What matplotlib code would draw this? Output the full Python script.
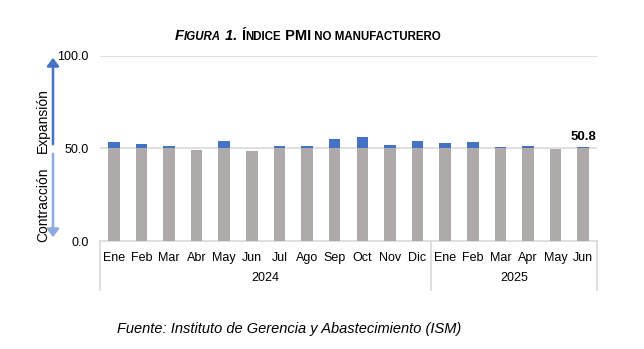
import matplotlib.pyplot as plt
from matplotlib.patches import FancyArrowPatch
import numpy as np

plt.rcParams['font.family'] = ['Liberation Sans', 'DejaVu Sans']

# Datos del indice PMI no manufacturero (ISM)
meses = ["Ene", "Feb", "Mar", "Abr", "May", "Jun", "Jul", "Ago", "Sep", "Oct", "Nov", "Dic",
         "Ene", "Feb", "Mar", "Apr", "May", "Jun"]
anios = ["2024", "2025"]
meses_por_anio = [12, 6]
pmi = [53.4, 52.6, 51.4, 49.4, 53.8, 48.8, 51.4, 51.5, 54.9, 56.0, 52.1, 54.1,
       52.8, 53.5, 50.8, 51.6, 49.9, 50.8]

gris = "#AEAAAA"
azul = "#4472C4"
azul_claro = "#8FAADC"
linea = "#D9D9D9"

valores = np.array(pmi)
base = np.minimum(valores, 50)
extra = np.maximum(valores - 50, 0)
x = np.arange(len(meses))

fig = plt.figure(figsize=(6.44, 3.49), dpi=100)
ax = fig.add_axes([100/644, 1 - 241/349, 497/644, 185/349])

ax.bar(x, base, width=0.42, color=gris, zorder=3)
ax.bar(x, extra, width=0.42, bottom=base, color=azul, zorder=3)

ax.set_ylim(0, 100)
ax.set_xlim(-0.5, len(meses) - 0.5)
ax.set_yticks([0, 50, 100])
ax.set_yticklabels(["0.0", "50.0", "100.0"], fontsize=9)
ax.tick_params(axis="y", length=0, pad=8)
ax.set_xticks([])
for s in ax.spines.values():
    s.set_visible(False)
for g in [50, 100]:
    ax.axhline(g, color=linea, lw=1.2, zorder=1)

# Caja de categorias
tr = ax.get_xaxis_transform()
ax.plot([-0.5, len(meses) - 0.5], [0, 0], color=linea, lw=1.2, transform=tr, clip_on=False)
pos = -0.5
for n in [0] + meses_por_anio:
    pos += n
    ax.plot([pos, pos], [0, -0.265], color=linea, lw=1.2, transform=tr, clip_on=False)
for i, m in enumerate(meses):
    ax.text(i, -0.09, m, ha="center", va="center", fontsize=9, transform=tr)
inicio = -0.5
for a, n in zip(anios, meses_por_anio):
    ax.text(inicio + n / 2, -0.2, a, ha="center", va="center", fontsize=9, transform=tr)
    inicio += n

# Etiqueta del ultimo dato
ax.text(x[-1], valores[-1] + 2, "{:.1f}".format(valores[-1]), ha="center", va="bottom",
        fontsize=9.5, fontweight="bold")

# Flechas de expansion / contraccion
fig.patches.append(FancyArrowPatch((53/644, 1 - 147/349), (53/644, 1 - 55/349),
                                   transform=fig.transFigure, arrowstyle="-|>,head_width=0.3",
                                   mutation_scale=12, color=azul, lw=1.8))
fig.patches.append(FancyArrowPatch((53/644, 1 - 151/349), (53/644, 1 - 240/349),
                                   transform=fig.transFigure, arrowstyle="-|>,head_width=0.3",
                                   mutation_scale=12, color=azul_claro, lw=1.8))
fig.text(43/644, 1 - 121/349, "Expansión", rotation=90, ha="center", va="center", fontsize=10)
fig.text(43/644, 1 - 205/349, "Contracción", rotation=90, ha="center", va="center", fontsize=10)

# Titulo en versalitas
titulo = [("F", 10.5), ("IGURA", 8.3), (" 1. ", 10.5), ("Í", 10.5), ("NDICE", 8.3),
          (" PMI", 10.5), (" NO MANUFACTURERO", 8.3)]
r = fig.canvas.get_renderer()
partes = []
tx = 0
for txt, fs in titulo:
    estilo = "italic" if txt in ("F", "IGURA", " 1. ") else "normal"
    tt = fig.text(tx, 1 - 40/349, txt, fontsize=fs, fontweight="bold", style=estilo,
                  ha="left", va="baseline")
    ancho = tt.get_window_extent(renderer=r).width / fig.bbox.width
    partes.append((tt, tx))
    tx += ancho
inicio_t = 308/644 - tx / 2
for tt, px in partes:
    tt.set_x(inicio_t + px)

fig.text(117/644, 1 - 329/349, "Fuente: Instituto de Gerencia y Abastecimiento (ISM)",
         fontsize=10.5, style="italic", ha="left", va="center")

plt.savefig("out.png", dpi=100)
